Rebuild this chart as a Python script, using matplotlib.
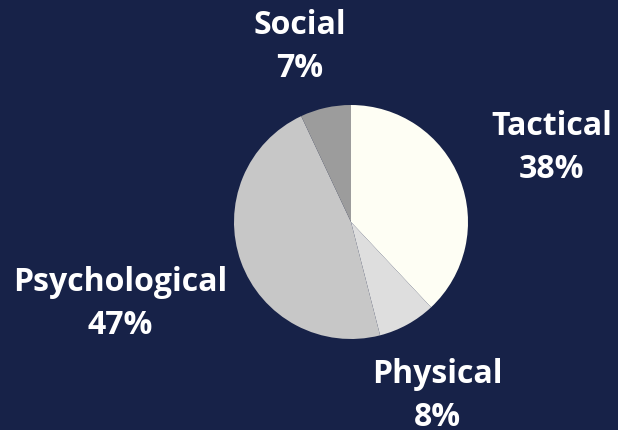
import matplotlib.pyplot as plt

categories = ['Tactical', 'Physical', 'Psychological', 'Social']
shares = [38, 8, 47, 7]
slice_colors = ['#fefef4', '#dedede', '#c7c7c7', '#9c9c9c']

# label anchor positions in pixel space (x, y from top)
label_pos = [(552, 148), (437, 396), (120, 304), (300, 47)]

bg = '#172248'
W, H = 618, 431

fig = plt.figure(figsize=(W / 100, H / 100), dpi=100, facecolor=bg)
ax = fig.add_axes([0, 0, 1, 1])
ax.set_facecolor(bg)

ax.pie(shares, colors=slice_colors, startangle=90, counterclock=False,
       center=(351, H - 223), radius=117, frame=True,
       wedgeprops={'linewidth': 0})
ax.set_xlim(0, W)
ax.set_ylim(0, H)
ax.set_aspect('equal')
ax.axis('off')

for name, val, (x, y) in zip(categories, shares, label_pos):
    ax.text(x, H - y, f'{name}\n{val}%', ha='center', va='center',
            color='white', fontsize=23, fontweight='bold',
            family='Open Sans', linespacing=1.4)

fig.savefig('out.png', dpi=100, facecolor=bg)
